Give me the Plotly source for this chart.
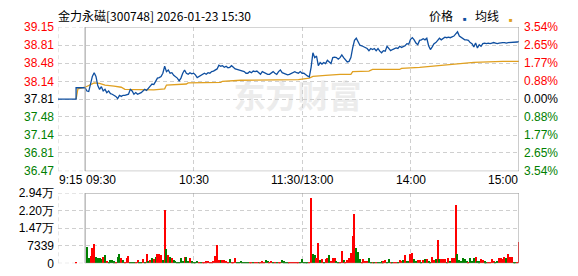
import plotly.graph_objects as go

W, H = 578, 276
prev_close = 37.81

# ---------------- data ----------------
pre_minutes = [-15, -5, -5, 0]
pre_prices = [37.81, 37.81, 38.02, 38.02]

prices = [
    38.02, 37.96, 37.95, 38.08, 38.23, 38.30, 38.23, 38.06, 37.99, 38.04,
    37.96, 37.99, 37.93, 37.96, 37.91, 37.90, 37.88, 37.86, 37.82, 37.88,
    37.86, 37.88, 37.88, 37.89, 37.90, 37.99, 37.96, 37.90, 37.93, 37.90,
    37.91, 37.93, 37.96, 37.99, 37.97, 38.02, 38.05, 38.09, 38.08, 38.14,
    38.20, 38.21, 38.23, 38.29, 38.42, 38.32, 38.35, 38.29, 38.30, 38.25,
    38.23, 38.20, 38.15, 38.20, 38.29, 38.35, 38.29, 38.27, 38.30, 38.28,
    38.29, 38.26, 38.21, 38.23, 38.26, 38.27, 38.29, 38.27, 38.30, 38.29,
    38.32, 38.33, 38.35, 38.37, 38.44, 38.42, 38.43, 38.40, 38.42, 38.39,
    38.40, 38.43, 38.40, 38.37, 38.36, 38.35, 38.35, 38.33, 38.32, 38.29,
    38.29, 38.32, 38.30, 38.33, 38.32, 38.33, 38.30, 38.27, 38.32, 38.30,
    38.29, 38.27, 38.27, 38.29, 38.32, 38.29, 38.27, 38.32, 38.35, 38.30,
    38.29, 38.27, 38.26, 38.27, 38.29, 38.30, 38.32, 38.30, 38.29, 38.32,
    38.29, 38.29, 38.26, 38.24, 38.22, 38.40, 38.67, 38.58, 38.61, 38.43,
    38.49, 38.46, 38.49, 38.47, 38.53, 38.50, 38.47, 38.58, 38.59, 38.58,
    38.55, 38.58, 38.63, 38.58, 38.53, 38.50, 38.51, 38.58, 38.76, 38.90,
    38.94, 38.88, 38.81, 38.80, 38.78, 38.77, 38.75, 38.71, 38.75, 38.73,
    38.75, 38.71, 38.75, 38.70, 38.67, 38.71, 38.70, 38.79, 38.75, 38.71,
    38.73, 38.75, 38.76, 38.75, 38.79, 38.77, 38.79, 38.80, 38.84, 38.83,
    38.92, 38.95, 38.91, 38.85, 38.82, 38.90, 38.91, 38.93, 38.91, 38.94,
    38.80, 38.73, 38.78, 38.84, 38.86, 38.91, 38.94, 38.91, 38.93, 38.96,
    38.95, 38.96, 38.95, 38.96, 38.98, 39.02, 39.06, 38.98, 38.96, 38.94,
    38.91, 38.91, 38.90, 38.86, 38.84, 38.78, 38.85, 38.76, 38.82, 38.79,
    38.84, 38.85, 38.84, 38.85, 38.84, 38.85, 38.86, 38.85, 38.84, 38.85,
    38.86, 38.86, 38.86, 38.85, 38.86, 38.86, 38.87, 38.87, 38.87, 38.87,
    38.88,
]
minutes = list(range(len(prices)))

avg_minutes = [-5, -4, 0, 3, 5, 8, 11, 16, 20, 22, 33, 38, 44, 45, 56, 57, 75, 76, 86,
               118, 124, 126, 133, 141, 147, 148, 157, 159, 174, 175, 185, 194, 204,
               205, 215, 231, 240]
avg_values = [37.81, 38.00, 38.03, 38.08, 38.11, 38.10, 38.07, 38.05, 38.03, 37.99,
              37.99, 37.98, 38.00, 38.07, 38.09, 38.11, 38.12, 38.14, 38.16,
              38.17, 38.20, 38.23, 38.25, 38.27, 38.27, 38.32, 38.33, 38.36, 38.36,
              38.38, 38.40, 38.43, 38.46, 38.47, 38.49, 38.51, 38.51]

volumes = [
    0, 7000, 2400, 3200, 6300, 7900, 2600, 2200, 2400, 1700,
    2600, 3600, 900, 660, 1300, 1200, 800, 660, 2600, 4000,
    2400, 1300, 660, 2000, 3200, 660, 500, 500, 500, 1200,
    400, 660, 1600, 400, 4000, 900, 1300, 2400, 1700, 2500,
    3700, 4000, 3600, 1450, 22200, 5950, 3600, 2500, 2400, 1200,
    1050, 660, 700, 2400, 1050, 2800, 2500, 900, 2400, 800,
    660, 500, 1050, 500, 500, 500, 500, 800, 900, 500,
    600, 900, 2900, 7500, 1450, 1200, 1300, 1200, 1050, 400,
    1700, 500, 400, 2000, 660, 500, 900, 500, 660, 660,
    500, 500, 660, 500, 660, 660, 500, 660, 800, 500,
    1300, 900, 660, 900, 500, 500, 500, 400, 500, 1200,
    800, 660, 400, 400, 400, 400, 400, 400, 500, 500,
    1600, 400, 400, 400, 500, 27100, 4000, 3300, 2000, 8300,
    1300, 1600, 660, 1600, 2400, 3300, 900, 2400, 2000, 900,
    500, 400, 5300, 1300, 660, 1300, 2400, 4400, 11200, 20750,
    6350, 4900, 1700, 660, 1600, 900, 900, 2000, 660, 500,
    500, 400, 660, 660, 800, 800, 1450, 500, 1700, 400,
    400, 400, 400, 500, 1300, 900, 1450, 3300, 900, 900,
    3800, 4400, 1700, 900, 1200, 1200, 660, 1450, 1600, 1600,
    900, 660, 2500, 1300, 1600, 9650, 1600, 1600, 1600, 1600,
    500, 2400, 1050, 2000, 2400, 24200, 4000, 1200, 1050, 2000,
    1600, 900, 660, 2000, 900, 2250, 2800, 1050, 800, 1600,
    1300, 800, 400, 400, 400, 1600, 1050, 660, 1050, 2000,
    2400, 1700, 2650, 2000, 4000, 2800, 2800, 500, 400, 300,
    8850,
]
vol_dir = (
    "NGGRRRGGGG" "RGRGGGGRGG" "RGRRRGGGRR" "GGRGRGRGRG" "RRRGRGRGRG"
    "GGGGGRGGRG" "GGGRGRRRRR" "RRRRRGRRRR" "GRRRGGGGGG" "GRRGRRGRRR"
    "GGRRGRGRRG" "GGGRRRRRRG" "GGGGRRGGRR" "GRGRRGRRRG" "GRRGRRRRRR"
    "GGGRRRRGGR" "GRGGGRRGGR" "GRRGRRGRGG" "RRGGRRGRGR" "GGRRGRGRRR"
    "GRGRRRGGGG" "GGRGGGRGGR" "RGGRRRRGGR" "RRRGRRRGGR" "R"
)
pre_vol_minutes = [-5]
pre_volumes = [400]

left_ticks = [36.47, 36.81, 37.14, 37.48, 37.81, 38.14, 38.48, 38.81, 39.15]
pct_ticks = [-3.54, -2.65, -1.77, -0.88, 0.00, 0.88, 1.77, 2.65, 3.54]
vol_ticks = [0, 7339, 14678, 22017, 29356]
vol_tick_text = ["0", "7339", "1.47万", "2.20万", "2.94万"]
grid_minutes = [-15, 60, 120, 180]
x_labels = [(-15, "9:15", "left"), (0, "09:30", "left"), (60, "10:30", "center"),
            (120, "11:30/13:00", "center"), (180, "14:00", "center"), (240, "15:00", "right")]

RED, GREEN, BLACK = "#FF0000", "#008000", "#000000"
BLUE, ORANGE = "#0F4FA0", "#E0A020"
GRID = "#CFCFCF"
BORDER = "#999999"
FONT = "Liberation Sans"
CJK = "Noto Sans CJK SC"
DASH = "4px,3px"


def col(v):
    if abs(v - prev_close) < 1e-9:
        return BLACK
    return RED if v > prev_close else GREEN


left_text = [f'<span style="color:{col(v)}">{v:.2f}</span>' for v in left_ticks]
pct_text = []
for p in pct_ticks:
    c = BLACK if p == 0 else (RED if p > 0 else GREEN)
    pct_text.append(f'<span style="color:{c}">{abs(p):.2f}%</span>')

vol_colors = [RED if d == "R" else GREEN for d in vol_dir]

fig = go.Figure()

# watermark (below grid)
fig.add_shape(type="rect", xref="x", yref="y", x0=80, x1=155, y0=37.65, y1=37.97,
              line=dict(width=0), fillcolor="rgba(0,0,0,0)", layer="below",
              label=dict(text="东方财富", font=dict(family=CJK, size=32, color="#ECECEC", weight="bold")))

fig.add_trace(go.Scatter(x=avg_minutes, y=avg_values, mode="lines",
                         line=dict(color=ORANGE, width=1.3), xaxis="x", yaxis="y", hoverinfo="skip"))
fig.add_trace(go.Scatter(x=pre_minutes, y=pre_prices, mode="lines",
                         line=dict(color=BLUE, width=1.3), xaxis="x", yaxis="y", hoverinfo="skip"))
fig.add_trace(go.Scatter(x=minutes, y=prices, mode="lines",
                         line=dict(color=BLUE, width=1.3), xaxis="x", yaxis="y", hoverinfo="skip"))
fig.add_trace(go.Scatter(x=[-15, 240], y=[-3.54, 3.54], mode="lines",
                         line=dict(width=0, color="rgba(0,0,0,0)"), xaxis="x", yaxis="y2", hoverinfo="skip"))
fig.add_trace(go.Bar(x=pre_vol_minutes, y=pre_volumes, marker=dict(color=RED, line=dict(width=0)),
                     width=0.6, xaxis="x2", yaxis="y3", hoverinfo="skip"))
fig.add_trace(go.Bar(x=minutes, y=volumes, marker=dict(color=vol_colors, line=dict(width=0)),
                     width=0.6, xaxis="x2", yaxis="y3", hoverinfo="skip"))

xdom = [58 / W, 519 / W]
main_dom = [(H - 173) / H, (H - 21) / H]
vol_dom = [(H - 270) / H, (H - 196) / H]

axis_common = dict(showline=False, zeroline=False, ticks="", fixedrange=True)
fig.update_layout(
    width=W, height=H, margin=dict(l=0, r=0, t=0, b=0),
    paper_bgcolor="white", plot_bgcolor="white", showlegend=False, bargap=0,
    font=dict(family=FONT, size=12, color=BLACK),
    xaxis=dict(domain=xdom, range=[-15, 240], anchor="y", tickvals=grid_minutes, showticklabels=False,
               showgrid=True, gridcolor=GRID, griddash=DASH, gridwidth=1, **axis_common),
    yaxis=dict(domain=main_dom, range=[36.47, 39.15], anchor="x", tickvals=left_ticks, ticktext=left_text,
               showgrid=True, gridcolor=GRID, griddash=DASH, gridwidth=1,
               tickfont=dict(family=FONT, size=12), ticklabelstandoff=3, **axis_common),
    yaxis2=dict(overlaying="y", side="right", anchor="x", range=[-3.54, 3.54], tickvals=pct_ticks,
                ticktext=pct_text, showgrid=False, tickfont=dict(family=FONT, size=12),
                ticklabelstandoff=4, **axis_common),
    xaxis2=dict(domain=xdom, range=[-15, 240], anchor="y3", tickvals=grid_minutes, showticklabels=False,
                showgrid=True, gridcolor=GRID, griddash=DASH, gridwidth=1, **axis_common),
    yaxis3=dict(domain=vol_dom, range=[0, 29356], anchor="x2", tickvals=vol_ticks, ticktext=vol_tick_text,
                showgrid=True, gridcolor=GRID, griddash=DASH, gridwidth=1,
                tickfont=dict(family=FONT, size=12, color=BLACK), ticklabelstandoff=3, **axis_common),
)

# dashed edges of the pre-market area (range edges are not always gridded)
edge = dict(color=GRID, width=1, dash=DASH)
for yv in (left_ticks[0], left_ticks[-1]):
    fig.add_shape(type="line", xref="x", yref="y", x0=-15, x1=0, y0=yv, y1=yv, line=edge, layer="below")
fig.add_shape(type="line", xref="x", yref="y", x0=-15, x1=-15, y0=left_ticks[0], y1=left_ticks[-1],
              line=edge, layer="below")
for yv in (vol_ticks[0], vol_ticks[-1]):
    fig.add_shape(type="line", xref="x2", yref="y3", x0=-15, x1=0, y0=yv, y1=yv, line=edge, layer="below")
fig.add_shape(type="line", xref="x2", yref="y3", x0=-15, x1=-15, y0=vol_ticks[0], y1=vol_ticks[-1],
              line=edge, layer="below")

# solid frames for the trading session
fig.add_shape(type="rect", xref="x", yref="y", x0=0, x1=240, y0=left_ticks[0], y1=left_ticks[-1],
              line=dict(color=BORDER, width=1), layer="above")
fig.add_shape(type="rect", xref="x2", yref="y3", x0=0, x1=240, y0=0, y1=vol_ticks[-1],
              line=dict(color=BORDER, width=1), layer="above")

# x labels
for m, t, anc in x_labels:
    fig.add_annotation(x=m, y=1 - 182 / H, xref="x", yref="paper", text=t, showarrow=False,
                       xanchor=anc, yanchor="middle", font=dict(family=FONT, size=12, color=BLACK),
                       borderpad=0)

# title and legend
fig.add_annotation(x=57 / W, y=1 - 9 / H, xref="paper", yref="paper", text="金力永磁[300748] 2026-01-23 15:30",
                   showarrow=False, xanchor="left", yanchor="middle",
                   font=dict(family=CJK, size=12, color=BLACK), borderpad=0)
fig.add_annotation(x=454 / W, y=1 - 9 / H, xref="paper", yref="paper", text="价格", showarrow=False,
                   xanchor="right", yanchor="middle", font=dict(family=CJK, size=12, color=BLACK), borderpad=0)
fig.add_annotation(x=464.5 / W, y=1 - 12.5 / H, xref="paper", yref="paper", text="■", showarrow=False,
                   xanchor="center", yanchor="middle", font=dict(family=FONT, size=6, color=BLUE), borderpad=0)
fig.add_annotation(x=500 / W, y=1 - 9 / H, xref="paper", yref="paper", text="均线", showarrow=False,
                   xanchor="right", yanchor="middle", font=dict(family=CJK, size=12, color=BLACK), borderpad=0)
fig.add_annotation(x=510.5 / W, y=1 - 13.5 / H, xref="paper", yref="paper", text="■", showarrow=False,
                   xanchor="center", yanchor="middle", font=dict(family=FONT, size=6, color=ORANGE), borderpad=0)

fig.write_html("out.html")
